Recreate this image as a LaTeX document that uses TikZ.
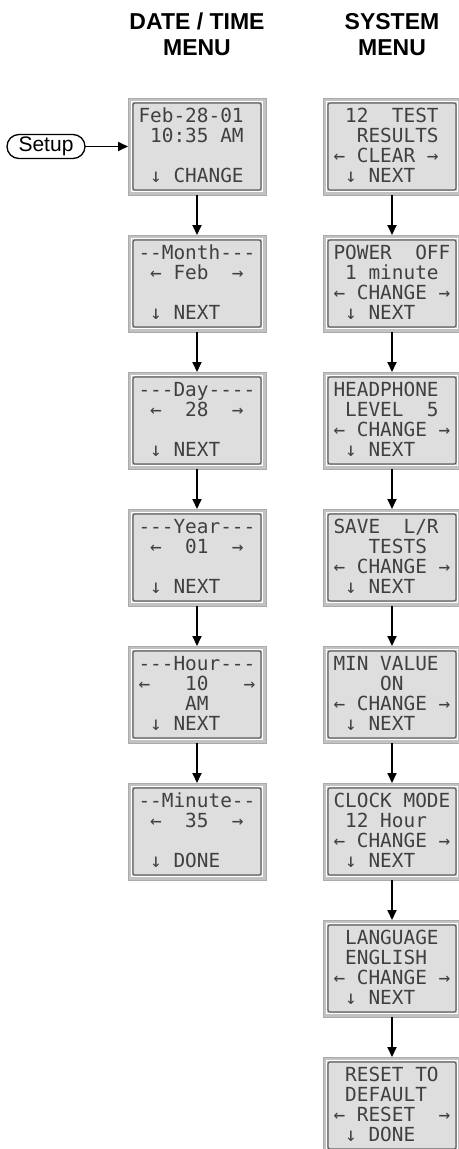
\documentclass[tikz,border=0pt]{standalone}
\usepackage{fontspec}
\setmainfont{Liberation Sans}
\setmonofont{DejaVu Sans Mono}
\usetikzlibrary{arrows.meta,positioning}
\tikzset{
  lcd/.style={rectangle, fill=black!24, draw=black!33, line width=0.6pt, minimum width=138pt, minimum height=97pt, inner sep=0pt, outer sep=0pt, text width=117pt, align=left, text=black!75, font=\ttfamily\fontsize{19.4}{20}\selectfont,
    execute at begin node={\def~{\hphantom{0}}\rule{0pt}{18pt}},
    execute at end node={\strut},
    path picture={
      \draw[white, line width=1pt] ([shift={(3.5pt,3.5pt)}]path picture bounding box.south west) rectangle ([shift={(-3.5pt,-3.5pt)}]path picture bounding box.north east);
      \draw[draw=black!62, fill=black!13, line width=1.2pt, rounded corners=2pt] ([shift={(5pt,5pt)}]path picture bounding box.south west) rectangle ([shift={(-5pt,-5pt)}]path picture bounding box.north east);
    }},
  head/.style={align=center, inner sep=0pt, outer sep=0pt, font=\bfseries\fontsize{23}{26.5}\selectfont},
  setupbtn/.style={rectangle, rounded corners=12pt, draw=black, line width=1.3pt, minimum width=78pt, minimum height=24pt, inner sep=0pt, outer sep=0pt, font=\fontsize{21}{24}\selectfont},
  flow/.style={-{Triangle[length=10pt,width=9pt]}, line width=1.8pt, draw=black},
}
\begin{document}
\begin{tikzpicture}[x=1pt, y=1pt]
  \useasboundingbox (0,0) rectangle (458,-1149);
  % date / time column
  \node[lcd] (date) at (197,-146.5) {Feb-28-01\\~10:35~AM\\\mbox{}\\~↓~CHANGE};
  \node[lcd, below=40pt of date] (month) {--Month---\\~←~Feb~~→\\\mbox{}\\~↓~NEXT};
  \node[lcd, below=40pt of month] (day) {---Day----\\~←~~28~~→\\\mbox{}\\~↓~NEXT};
  \node[lcd, below=40pt of day] (year) {---Year---\\~←~~01~~→\\\mbox{}\\~↓~NEXT};
  \node[lcd, below=40pt of year] (hour) {---Hour---\\←~~~10~~~→\\~~~~AM\\~↓~NEXT};
  \node[lcd, below=40pt of hour] (minute) {--Minute--\\~←~~35~~→\\\mbox{}\\~↓~DONE};
  \node[head, above=42pt of date] (dthead) {DATE / TIME\\MENU};
  \node[setupbtn, left=43pt of date] (setup) {Setup};
  \draw[flow] (setup) -- (date);
  \draw[flow] (date) -- (month); \draw[flow] (month) -- (day); \draw[flow] (day) -- (year);
  \draw[flow] (year) -- (hour); \draw[flow] (hour) -- (minute);
  % system column
  \node[lcd, right=57pt of date] (results) {~12~~TEST\\~~RESULTS\\←~CLEAR~→\\~↓~NEXT};
  \node[lcd, below=40pt of results] (power) {POWER~~OFF\\~1~minute\\←~CHANGE~→\\~↓~NEXT};
  \node[lcd, below=40pt of power] (phone) {HEADPHONE\\~LEVEL~~5\\←~CHANGE~→\\~↓~NEXT};
  \node[lcd, below=40pt of phone] (save) {SAVE~~L/R\\~~~TESTS\\←~CHANGE~→\\~↓~NEXT};
  \node[lcd, below=40pt of save] (minval) {MIN~VALUE\\~~~~ON\\←~CHANGE~→\\~↓~NEXT};
  \node[lcd, below=40pt of minval] (clock) {CLOCK~MODE\\~12~Hour\\←~CHANGE~→\\~↓~NEXT};
  \node[lcd, below=40pt of clock] (lang) {~LANGUAGE\\~ENGLISH\\←~CHANGE~→\\~↓~NEXT};
  \node[lcd, below=40pt of lang] (reset) {~RESET~TO\\~DEFAULT\\←~RESET~~→\\~↓~DONE};
  \node[head, above=42pt of results] (syshead) {SYSTEM\\MENU};
  \draw[flow] (results) -- (power); \draw[flow] (power) -- (phone); \draw[flow] (phone) -- (save);
  \draw[flow] (save) -- (minval); \draw[flow] (minval) -- (clock); \draw[flow] (clock) -- (lang);
  \draw[flow] (lang) -- (reset);
\end{tikzpicture}
\end{document}
